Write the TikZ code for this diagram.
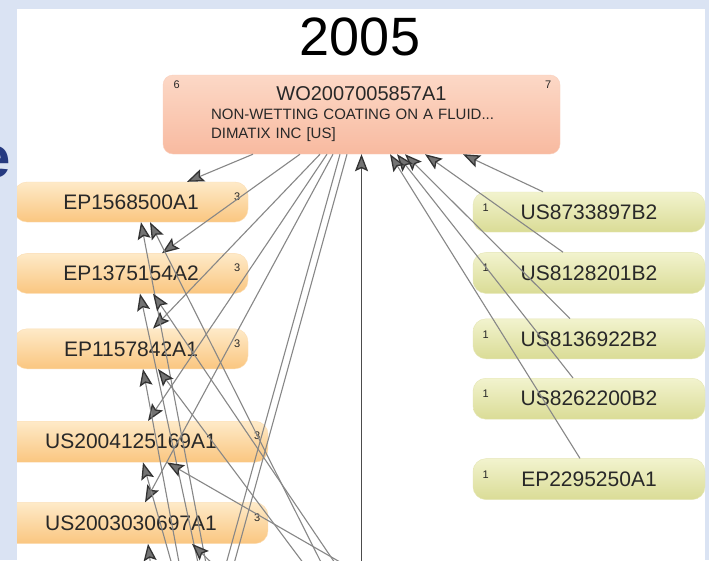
\documentclass[tikz,border=0pt]{standalone}
\usepackage{fontspec}
\setmainfont{Liberation Sans}
\usetikzlibrary{arrows.meta,positioning}
\definecolor{slidebg}{RGB}{218,227,243}
\definecolor{titleblue}{RGB}{38,58,128}
\definecolor{salmontop}{RGB}{252,216,198}
\definecolor{salmonbot}{RGB}{248,186,160}
\definecolor{orangetop}{RGB}{254,234,200}
\definecolor{orangebot}{RGB}{250,198,128}
\definecolor{olivetop}{RGB}{242,243,206}
\definecolor{olivebot}{RGB}{218,220,150}
\definecolor{linkgray}{RGB}{135,135,135}
\definecolor{labelgray}{RGB}{40,40,40}
\tikzset{
  focal/.style={
    rounded corners=10pt,
    top color=salmontop,
    bottom color=salmonbot,
    draw=salmonbot!70,
    align=left,
    text width=301pt,
    minimum width=397pt,
    minimum height=79pt,
    text=labelgray,
    font=\fontsize{15}{19}\selectfont
  },
  cited/.style={
    rounded corners=13pt,
    top color=orangetop,
    bottom color=orangebot,
    draw=orangebot!60,
    minimum width=234pt,
    minimum height=40pt,
    text=labelgray,
    font=\fontsize{21}{21}\selectfont
  },
  citing/.style={
    rounded corners=13pt,
    top color=olivetop,
    bottom color=olivebot,
    draw=olivebot!70,
    minimum width=232pt,
    minimum height=40pt,
    text=labelgray,
    font=\fontsize{21}{21}\selectfont
  },
  count/.style={
    inner sep=0pt,
    text=labelgray,
    font=\fontsize{11}{11}\selectfont
  },
  line/.style={
    -{Stealth[length=17pt,width=13pt,inset=3pt,line width=1.3pt,color=black!80,fill=black!55]},
    line width=1.1pt,
    draw=linkgray
  }
}

\begin{document}
\begin{tikzpicture}[x=1pt, y=-1pt, node distance=20pt]
  \useasboundingbox (0,0) rectangle (709,560);
  \fill[slidebg] (0,0) rectangle (709,560);
  \fill[white] (17,9) rectangle (705,560);
  \node[anchor=base east, inner sep=0pt, text=titleblue, font=\fontsize{58}{58}\selectfont\bfseries] (cut) at (11,177) {e};

  \begin{scope}
  \clip (17,9) rectangle (705,560);
  \node[font=\fontsize{54}{54}\selectfont] (year) at (360,37) {2005};
  \node[focal] (wo) at (361.5,114.5) {\makebox[301pt]{\fontsize{20}{20}\selectfont WO2007005857A1}\\
    \mbox{NON-WETTING COATING ON A FLUID...}\\
    DIMATIX INC [US]};
  \node[count] (wol) at ([xshift=14pt,yshift=-10pt]wo.north west) {6};
  \node[count] (wor) at ([xshift=-12pt,yshift=-10pt]wo.north east) {7};

  \node[cited] (n1) at (131,202) {EP1568500A1};
  \node[cited, below=31pt of n1] (n2) {EP1375154A2};
  \node[cited, below=35pt of n2] (n3) {EP1157842A1};
  \node[cited, below=52pt of n3, minimum width=274pt, minimum height=41pt] (n4) {US2004125169A1};
  \node[cited, below=40pt of n4, minimum width=274pt, minimum height=41pt] (n5) {US2003030697A1};
  \foreach \n in {n1,n2,n3,n4,n5}
    \node[count] (\n c) at ([xshift=-11pt,yshift=-15pt]\n.north east) {3};

  \node[citing] (r1) at (589,212) {US8733897B2};
  \node[citing, below=20pt of r1, minimum height=41pt] (r2) {US8128201B2};
  \node[citing, below=25pt of r2] (r3) {US8136922B2};
  \node[citing, below=19pt of r3, minimum height=41pt] (r4) {US8262200B2};
  \node[citing, below=39pt of r4, minimum height=41pt] (r5) {EP2295250A1};
  \foreach \n in {r1,r2,r3,r4,r5}
    \node[count] (\n c) at ([xshift=13pt,yshift=-16pt]\n.north west) {1};

  \coordinate (src0) at (361.5,600);
  \coordinate (old1) at (216,600);
  \coordinate (old2) at (224,600);
  \coordinate (src1a) at (213,600);
  \coordinate (src1b) at (340,600);
  \coordinate (src2a) at (206,600);
  \coordinate (src2b) at (360,600);
  \coordinate (src3a) at (186,600);
  \coordinate (src3b) at (331,600);
  \coordinate (src4a) at (182,600);
  \coordinate (src4b) at (406,600);
  \coordinate (src5a) at (155,600);
  \coordinate (src5b) at (250,600);

  \draw[line] ([xshift=-108.5pt]wo.south) -- ([xshift=56pt]n1.north);
  \draw[line] ([xshift=-61.5pt]wo.south) -- ([xshift=31pt]n2.north);
  \draw[line] ([xshift=-41.5pt]wo.south) -- ([xshift=22pt]n3.north);
  \draw[line] ([xshift=-34.5pt]wo.south) -- ([xshift=17pt]n4.north);
  \draw[line] ([xshift=-28.5pt]wo.south) -- ([xshift=14pt]n5.north);
  \draw[line] ([xshift=-21.5pt]wo.south) -- (old1);
  \draw[line] ([xshift=-14.5pt]wo.south) -- (old2);

  \draw[line] (src1a) -- ([xshift=10pt]n1.south);
  \draw[line] (src1b) -- ([xshift=19pt]n1.south);
  \draw[line] (src2a) -- ([xshift=9pt]n2.south);
  \draw[line] (src2b) -- ([xshift=22pt]n2.south);
  \draw[line] (src3a) -- ([xshift=12pt]n3.south);
  \draw[line] (src3b) -- ([xshift=27pt]n3.south);
  \draw[line] (src4a) -- ([xshift=12pt]n4.south);
  \draw[line] (src4b) -- ([xshift=36pt]n4.south);
  \draw[line] (src5a) -- ([xshift=17pt]n5.south);
  \draw[line] (src5b) -- ([xshift=61pt]n5.south);

  \draw[line] ([xshift=-46pt]r1.north) -- ([xshift=101.5pt]wo.south);
  \draw[line] ([xshift=-26pt]r2.north) -- ([xshift=63.5pt]wo.south);
  \draw[line] ([xshift=-19pt]r3.north) -- ([xshift=43.5pt]wo.south);
  \draw[line] ([xshift=-16pt]r4.north) -- ([xshift=35.5pt]wo.south);
  \draw[line] ([xshift=-9pt]r5.north) -- ([xshift=28.5pt]wo.south);

  \draw[line, line width=1.8pt, draw=gray!60!black] (src0) -- (wo.south);
  \end{scope}
\end{tikzpicture}
\end{document}
